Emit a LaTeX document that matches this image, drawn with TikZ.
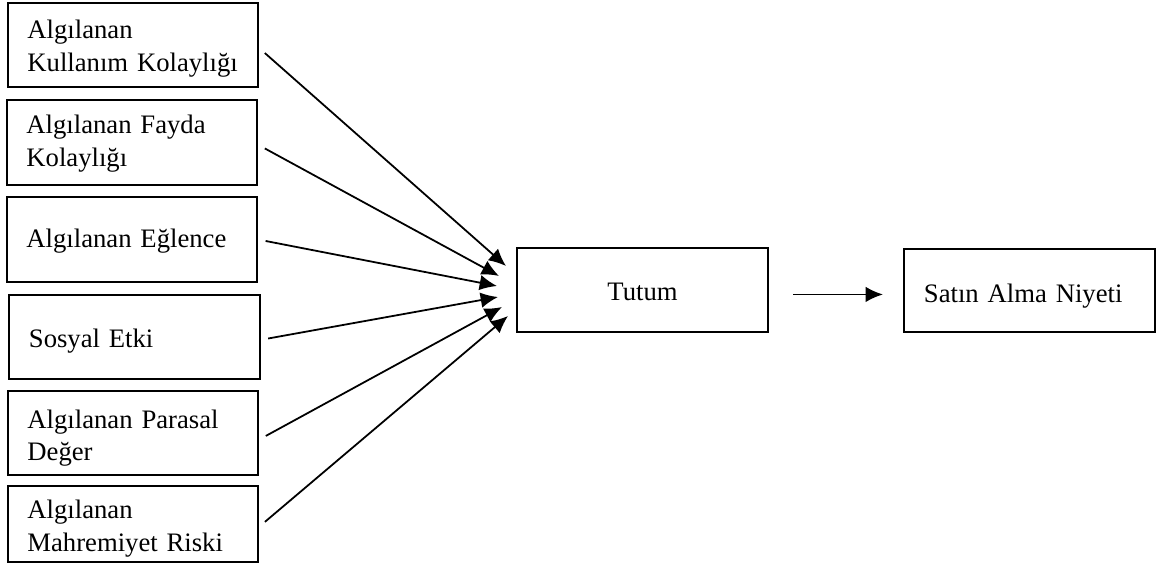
\documentclass[tikz,border=0pt]{standalone}
\usepackage{fontspec}
\setmainfont{Liberation Serif}
\usetikzlibrary{arrows.meta,positioning}
\tikzset{%
	factor/.style = {draw, rectangle, line width=0.9pt, minimum width=112.5pt, minimum height=38pt, text width=95pt, inner xsep=8.75pt, align=left, font=\fontsize{12}{14.8}\selectfont},
	result/.style = {draw, rectangle, line width=0.9pt, minimum width=113pt, minimum height=37.5pt, font=\fontsize{12}{14.8}\selectfont},
	raised/.style = {text height=8pt, text depth=#1},
	link/.style   = {line width=0.8pt, -{Latex[length=7.8pt,width=7pt]}, shorten <=3.5pt},
}

\begin{document}
\begin{tikzpicture}[x=0.45pt,y=-0.45pt]
			\useasboundingbox (0,0) rectangle (1156,575);
			% left side factors
			\node[factor,raised=13.4pt] (ak) at (133,45) {Algılanan\\Kullanım Kolaylığı};
			\node[factor,raised=16.4pt] (af) at (132,142.5) {Algılanan Fayda\\Kolaylığı};
			\node[factor,text height=7.6pt,text depth=0pt] (ae) at (132,239.5) {Algılanan Eğlence};
			\node[factor,text height=9pt,text depth=0pt] (se) at (134.5,337) {Sosyal Etki};
			\node[factor,raised=12.5pt] (ap) at (133,433) {Algılanan Parasal\\Değer};
			\node[factor,raised=13pt,minimum height=34pt] (am) at (133,524) {Algılanan\\Mahremiyet Riski};
			
			\node[result,text height=9pt,text depth=0pt] (tutum) at (642.5,290) {Tutum};
			\node[result,text width=95pt,inner xsep=9pt,align=left,text height=11.2pt,text depth=0pt] (niyet) at (1029.5,290.5) {Satın Alma Niyeti};
			
			% arrow tips in front of Tutum
			\coordinate (t1) at (506,266);
			\coordinate (t2) at (499,276);
			\coordinate (t3) at (497,286);
			\coordinate (t4) at (498,297);
			\coordinate (t5) at (502,307);
			\coordinate (t6) at (508,316);
			
			\draw[link] ([yshift=-1.3pt]ak.east) -- (t1);
			\draw[link] ([yshift=-1pt]af.east) -- (t2);
			\draw[link] (ae.east) -- (t3);
			\draw[link] ([yshift=-1.3pt]se.east) -- (t4);
			\draw[link] ([yshift=-3pt]ap.east) -- (t5);
			\draw[link] ([yshift=-1.3pt]am.east) -- (t6);
			
			\draw[link,shorten <=10.8pt,shorten >=9pt] ([yshift=-2pt]tutum.east) -- ([yshift=-2pt]tutum.east -| niyet.west);
		\end{tikzpicture}
\end{document}
